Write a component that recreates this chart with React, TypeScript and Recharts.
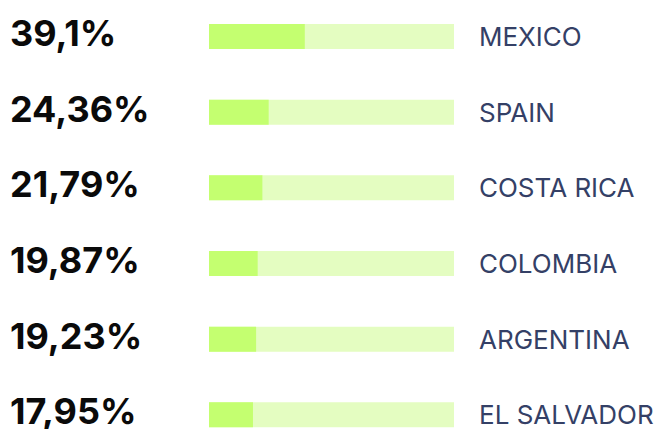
import { Bar, BarChart, XAxis, YAxis } from 'recharts';

const countries = ['MEXICO', 'SPAIN', 'COSTA RICA', 'COLOMBIA', 'ARGENTINA', 'EL SALVADOR'];
const shares = [39.1, 24.36, 21.79, 19.87, 19.23, 17.95];

const chartData = countries.map((country, i) => ({
  country,
  share: shares[i],
  label: `${String(shares[i]).replace('.', ',')}%`,
}));

interface TickProps {
  x?: number;
  y?: number;
  payload?: { value: string };
}

const PercentTick = ({ y, payload }: TickProps) => (
  <text
    x={10}
    y={(y ?? 0) + 9}
    fill="#0a0a0a"
    fontFamily="Inter, 'Liberation Sans', Arial, sans-serif"
    fontSize={36}
    fontWeight={700}
  >
    {payload?.value}
  </text>
);

const CountryTick = ({ x, y, payload }: TickProps) => (
  <text
    x={(x ?? 0) + 17}
    y={(y ?? 0) + 9}
    fill="#344066"
    fontFamily="Inter, 'Liberation Sans', sans-serif"
    fontSize={26}
  >
    {payload?.value}
  </text>
);

export default function App() {
  return (
    <div
      style={{
        position: 'absolute',
        left: 0,
        top: 0,
        width: 660,
        height: 429,
        overflow: 'hidden',
        background: '#ffffff',
      }}
    >
      <div style={{ position: 'absolute', left: 0, top: -1 }}>
        <BarChart
          data={chartData}
          height={454}
          layout="vertical"
          margin={{ top: 0, right: 0, bottom: 0, left: 0 }}
          width={660}
        >
          <XAxis domain={[0, 100]} hide type="number" />
          <YAxis
            axisLine={false}
            dataKey="label"
            tick={<PercentTick />}
            tickLine={false}
            type="category"
            width={209}
            yAxisId="left"
          />
          <YAxis
            axisLine={false}
            dataKey="country"
            orientation="right"
            tick={<CountryTick />}
            tickLine={false}
            type="category"
            width={206}
            yAxisId="right"
          />
          <Bar
            background={{ fill: '#e4fdc1' }}
            barSize={25}
            dataKey="share"
            fill="#c4ff70"
            isAnimationActive={false}
            yAxisId="left"
          />
        </BarChart>
      </div>
    </div>
  );
}
